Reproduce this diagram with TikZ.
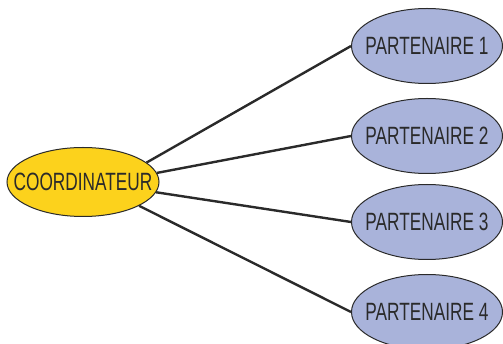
\documentclass[tikz,border=0pt]{standalone}
\usepackage{fontspec}
\usepackage{tikz}
\usetikzlibrary{shapes.geometric}
\newfontfamily\narrowfont{Liberation Sans}[FakeStretch=0.69]
\definecolor{gold}{HTML}{FCD21C}
\definecolor{lavender}{HTML}{A9B3DA}
\definecolor{ink}{HTML}{2A2A2A}
\newcommand{\lbl}[1]{\makebox[0pt]{#1}}
\tikzset{
	bubble/.style={ellipse,draw=ink,line width=1pt,inner sep=0pt,text=ink,
		font=\narrowfont\fontsize{25}{25}\selectfont},
	coordbox/.style={bubble,fill=gold,minimum width=152pt,minimum height=69pt},
	partbox/.style={bubble,fill=lavender,minimum width=151pt,minimum height=75pt},
	link/.style={draw=ink,line width=2.4pt}
}
\begin{document}
\begin{tikzpicture}[x=1pt,y=-1pt]
		
		\useasboundingbox (0,0) rectangle (503,344);
		\node[coordbox] (coord) at (83,182) {\lbl{COORDINATEUR}};
		\foreach \i/\y in {1/46,2/136,3/222,4/312}
		\node[partbox] (part\i) at (427,\y) {\lbl{PARTENAIRE \i}};
		\draw[link] (coord.17) -- (part1.west);
		\draw[link] (coord.7) -- (part2.west);
		\draw[link] (coord.-8) -- (part3.west);
		\draw[link] (coord.-23) -- (part4.west);
		
\end{tikzpicture}
\end{document}
